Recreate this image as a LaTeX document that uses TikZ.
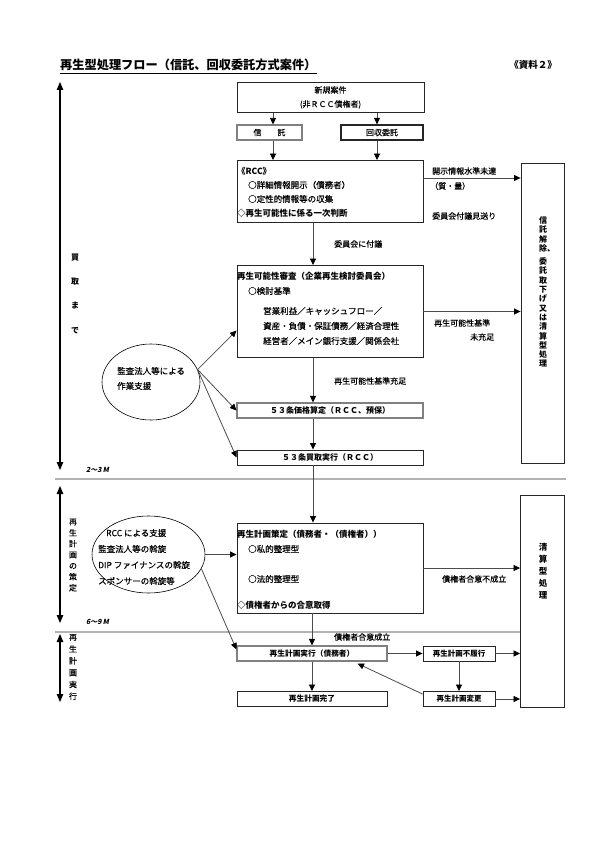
\documentclass[tikz,border=0pt]{standalone}
\usepackage{fontspec}
\setmainfont{Noto Sans CJK JP}[UprightFeatures={FakeBold=0.4}]
\newcommand{\hdfont}{\bfseries}
\newfontfamily\slfont{Noto Sans CJK JP}[FakeSlant=0.2]
\usetikzlibrary{arrows.meta,shapes.geometric}
\tikzset{
 box/.style={draw=black!85, line width=0.9pt, inner sep=0pt, font=\hdfont\fontsize{8}{14}\selectfont, align=center},
 gbox/.style={box, draw=black!50, line width=1.1pt},
 txt/.style={anchor=west, inner sep=0pt, font=\fontsize{8.5}{10}\selectfont},
 htxt/.style={anchor=west, inner sep=0pt, font=\hdfont\fontsize{8.5}{10}\selectfont},
 lbl/.style={anchor=west, inner sep=0pt, font=\fontsize{8}{10}\selectfont},
 arr/.style={draw=black!70, line width=0.8pt, -{Triangle[length=6.5pt,width=6pt,color=black]}},
 dbl/.style={line width=1.2pt, {Triangle[length=8pt,width=6.5pt]}-{Triangle[length=8pt,width=6.5pt]}},
 sep/.style={draw=black!30, line width=1.6pt},
 vtxt/.style={align=center, inner sep=0pt},
 ell/.style={draw, ellipse, line width=0.6pt, inner sep=0pt},
 mlbl/.style={anchor=west, inner sep=0pt, font=\slfont\bfseries\fontsize{7}{8}\selectfont},
}
\begin{document}
\begin{tikzpicture}[x=1pt,y=-1pt]
\useasboundingbox (0,0) rectangle (595,842);
\fill[white] (0,0) rectangle (595,842);

% title
\node[anchor=west, inner sep=0pt, font=\hdfont\fontsize{12.2}{13}\selectfont] (title) at (60,65) {再生型処理フロー（信託、回収委託方式案件）};
\draw[line width=0.9pt] ([yshift=-2pt]title.south west) -- ([yshift=-2pt]title.south east);
\node[inner sep=0pt, font=\hdfont\fontsize{9.5}{10}\selectfont] (shiryo) at (533,65) {《資料２》};

% separators
\coordinate (s1a) at (55,479); \coordinate (s1b) at (566,479);
\coordinate (s2a) at (55,632); \coordinate (s2b) at (521,632);
\draw[sep] (s1a) -- (s1b);
\draw[sep] (s2a) -- (s2b);

% left period arrows
\coordinate (a1t) at (60,82); \coordinate (a1b) at (60,470);
\coordinate (a2t) at (60,486); \coordinate (a2b) at (60,623);
\coordinate (a3t) at (60,634); \coordinate (a3b) at (60,702);
\draw[dbl] (a1t) -- (a1b);
\draw[dbl] (a2t) -- (a2b);
\draw[dbl] (a3t) -- (a3b);
\node[vtxt, font=\hdfont\fontsize{8}{24.3}\selectfont] (v1) at (75,293.5) {買\\取\\ま\\で};
\node[vtxt, font=\fontsize{8}{11}\selectfont] (v2) at (73,555) {再\\生\\計\\画\\の\\策\\定};
\node[vtxt, font=\fontsize{8}{11.8}\selectfont] (v3) at (73,667) {再\\生\\計\\画\\実\\行};
\node[mlbl] (m1) at (86,470) {2～3\,M};
\node[mlbl] (m2) at (86,622) {6～9\,M};

% boxes upper
\node[box, minimum width=187pt, minimum height=30pt, font=\fontsize{8}{14}\selectfont] (shinki) at (330.5,97.5) {新規案件\\(非ＲＣＣ債権者)};
\node[gbox, minimum width=65pt, minimum height=15pt, font=\fontsize{8}{10}\selectfont] (shintaku) at (269.5,132.5) {信　　託};
\node[box, line width=1.3pt, minimum width=82pt, minimum height=15pt, font=\fontsize{8}{10}\selectfont] (kaishu) at (382,132.5) {回収委託};
\node[box, minimum width=186pt, minimum height=62pt] (rcc) at (330,191.5) {};
\node[box, minimum width=186pt, minimum height=92pt] (shinsa) at (330,311.5) {};
\node[gbox, minimum width=186pt, minimum height=15pt] (kakaku) at (330,410.5) {５３条価格算定（ＲＣＣ、預保）};
\node[box, minimum width=186pt, minimum height=15pt] (kaitori) at (330,457.5) {５３条買取実行（ＲＣＣ）};
\node[box, minimum width=43pt, minimum height=300pt] (bigR) at (542.5,313) {};
\node[vtxt, font=\hdfont\fontsize{8}{9.3}\selectfont] (bigRt) at (543,292) {信\\託\\解\\除\rlap{、}\\[4pt]委\\託\\取\\下\\げ\\又\\は\\清\\算\\型\\処\\理};

% rcc text
\node[htxt] (r1) at (237,171) {《RCC》};
\node[txt] (r2) at (248,185) {○詳細情報開示（債務者）};
\node[txt] (r3) at (248,199) {○定性的情報等の収集};
\node[htxt] (r4) at (237,213) {◇再生可能性に係る一次判断};
% shinsa text
\node[htxt] (k1) at (237,276) {再生可能性審査（企業再生検討委員会）};
\node[txt] (k2) at (248,291) {○検討基準};
\node[txt] (k3) at (263,311) {営業利益／キャッシュフロー／};
\node[txt] (k4) at (263,326) {資産・負債・保証債務／経済合理性};
\node[txt] (k5) at (263,341) {経営者／メイン銀行支援／関係会社};

% labels upper
\node[lbl] (l1) at (432,171) {開示情報水準未達};
\node[lbl] (l2) at (430,186) {（質・量）};
\node[lbl] (l3) at (432,216) {委員会付議見送り};
\node[lbl] (l4) at (334,244) {委員会に付議};
\node[lbl] (l5) at (434,323) {再生可能性基準};
\node[lbl] (l6) at (470,337) {未充足};
\node[lbl] (l7) at (334,381) {再生可能性基準充足};

% ellipse 1
\node[ell, minimum width=98pt, minimum height=76pt] (e1) at (151,382) {};
\node[txt] (e1a) at (117,371) {監査法人等による};
\node[txt] (e1b) at (117,386) {作業支援};

% upper connectors
\draw[arr] ([xshift=3.5pt]shintaku.north |- shinki.south) -- ([xshift=3.5pt]shintaku.north);
\draw[arr] ([xshift=-5pt]kaishu.north |- shinki.south) -- ([xshift=-5pt]kaishu.north);
\draw[arr] ([xshift=3.5pt]shintaku.south) -- ([xshift=3.5pt]shintaku.south |- rcc.north);
\draw[arr] ([xshift=-5pt]kaishu.south) -- ([xshift=-5pt]kaishu.south |- rcc.north);
\draw[arr] ([yshift=13.5pt]rcc.east) -- ([yshift=13.5pt]rcc.east -| bigR.west);
\draw[arr] ([xshift=-17pt]rcc.south) -- ([xshift=-17pt]shinsa.north);
\draw[arr] (shinsa.east) -- (shinsa.east -| bigR.west);
\draw[arr] ([xshift=-17pt]shinsa.south) -- ([xshift=-17pt]kakaku.north);
\draw[arr] ([xshift=-17pt]kakaku.south) -- ([xshift=-17pt]kaitori.north);
\draw[arr] (e1.15) -- ([yshift=-19pt]shinsa.west);
\draw[arr] (e1.15) -- (kakaku.west);
\draw[arr] (e1.15) -- (kaitori.west);

% lower boxes
\node[box, minimum width=186pt, minimum height=90pt] (sakutei) at (330,568) {};
\node[htxt] (p1) at (237,534) {再生計画策定（債務者・（債権者））};
\node[txt] (p2) at (248,549) {○私的整理型};
\node[txt] (p3) at (248,579) {○法的整理型};
\node[htxt] (p4) at (237,605) {◇債権者からの合意取得};
\node[box, minimum width=44pt, minimum height=212pt] (seisan) at (542.5,601) {};
\node[vtxt, font=\hdfont\fontsize{8.5}{12}\selectfont] (seisant) at (543,571) {清\\算\\型\\処\\理};
\node[gbox, minimum width=150pt, minimum height=15pt, font=\hdfont\fontsize{7.7}{10}\selectfont] (jikko) at (312,653.5) {再生計画実行（債務者）};
\node[box, minimum width=72pt, minimum height=15pt, font=\hdfont\fontsize{7.5}{10}\selectfont] (furiko) at (459,653.5) {再生計画不履行};
\node[box, minimum width=72pt, minimum height=15pt, font=\hdfont\fontsize{7.5}{10}\selectfont] (henko) at (459,699) {再生計画変更};
\node[box, minimum width=150pt, minimum height=15pt, font=\hdfont\fontsize{7.7}{10}\selectfont] (kanryo) at (312,699) {再生計画完了};

% ellipse 2
\node[ell, minimum width=113pt, minimum height=77pt] (e2) at (148.5,554.5) {};
\node[txt] (e2a) at (106,533) {RCC による支援};
\node[txt] (e2b) at (98,549) {監査法人等の斡旋};
\node[txt] (e2c) at (98,565) {DIP ファイナンスの斡旋};
\node[txt] (e2d) at (98,581) {スポンサーの斡旋等};

% lower labels
\node[lbl] (l8) at (442,579) {債権者合意不成立};
\node[lbl] (l9) at (334,637) {債権者合意成立};

% lower connectors
\draw[arr] ([xshift=-17pt]kaitori.south) -- ([xshift=-17pt]sakutei.north);
\draw[arr] (e2.east) -- (e2.east -| sakutei.west);
\draw[arr] (e2.-15) -- ([yshift=4pt]jikko.west);
\draw[arr] (sakutei.east) -- (sakutei.east -| seisan.west);
\draw[arr] (jikko.north |- sakutei.south) -- (jikko.north);
\draw[arr] (jikko.east) -- (furiko.west);
\draw[arr] (furiko.east) -- (furiko.east -| seisan.west);
\draw[arr] (furiko.south) -- (henko.north);
\draw[arr] (henko.east) -- (henko.east -| seisan.west);
\draw[arr] ([yshift=-3pt]henko.north west) -- ([xshift=-30pt,yshift=-2pt]jikko.south east);
\draw[arr] (jikko.south) -- (kanryo.north);
\end{tikzpicture}
\end{document}
